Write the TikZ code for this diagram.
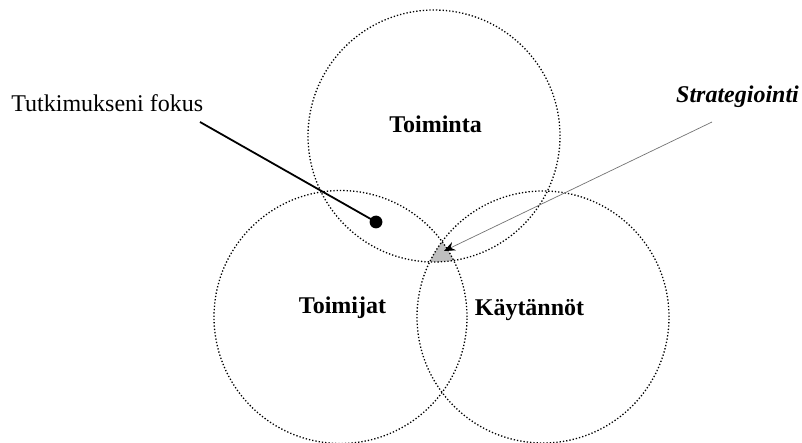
\documentclass[tikz,border=0pt]{standalone}
\usepackage{fontspec}
\setmainfont{Liberation Serif}
\usetikzlibrary{arrows.meta}
\begin{document}
\begin{tikzpicture}[x=0.5pt,y=-0.5pt,
  ring/.style={draw, dash pattern=on 0.65pt off 1.0pt, line width=0.65pt},
  txt/.style={inner sep=0pt, font=\fontsize{12}{14}\selectfont},
  area/.style={txt, anchor=base, font=\fontsize{12}{14}\selectfont\bfseries},
  overlapfill/.style={fill=black!25}]
\useasboundingbox (0,0) rectangle (802,443);

% centres of the three sets
\coordinate (ctop) at (434,136);
\coordinate (cleft) at (340.5,317);
\coordinate (cright) at (543,317);

% common part of all three sets
\begin{scope}
  \clip (ctop) circle[radius=63pt];
  \clip (cleft) circle[radius=63.25pt];
  \fill[overlapfill] (cright) circle[radius=63pt];
\end{scope}

% the sets
\draw[ring] (ctop) circle[radius=63pt];
\draw[ring] (cleft) circle[radius=63.25pt];
\draw[ring] (cright) circle[radius=63pt];

% set names
\node[area] (toiminta) at (435.5,133) {Toiminta};
\node[area] (toimijat) at (342.5,313) {Toimijat};
\node[area] (kaytannot) at (529.5,315) {Käytännöt};

% research focus pointer
\node[txt, anchor=base west] (fokuslabel) at (11,112) {Tutkimukseni fokus};
\node[circle, fill=black, inner sep=0pt, minimum size=6.4pt] (focusdot) at (376,222) {};
\coordinate (focusstart) at (200,122);
\draw[line width=0.9pt] (focusstart) -- (focusdot.center);

% strategy pointer
\node[txt, anchor=base, font=\fontsize{12}{14}\selectfont\bfseries\itshape] (stratlabel) at (737.5,103) {Strategiointi};
\coordinate (stratstart) at (712,122);
\coordinate (strattip) at (444,251);
\draw[black!55, line width=0.35pt, -{Stealth[length=5.5pt,width=4.5pt,black]}] (stratstart) -- (strattip);
\end{tikzpicture}
\end{document}
